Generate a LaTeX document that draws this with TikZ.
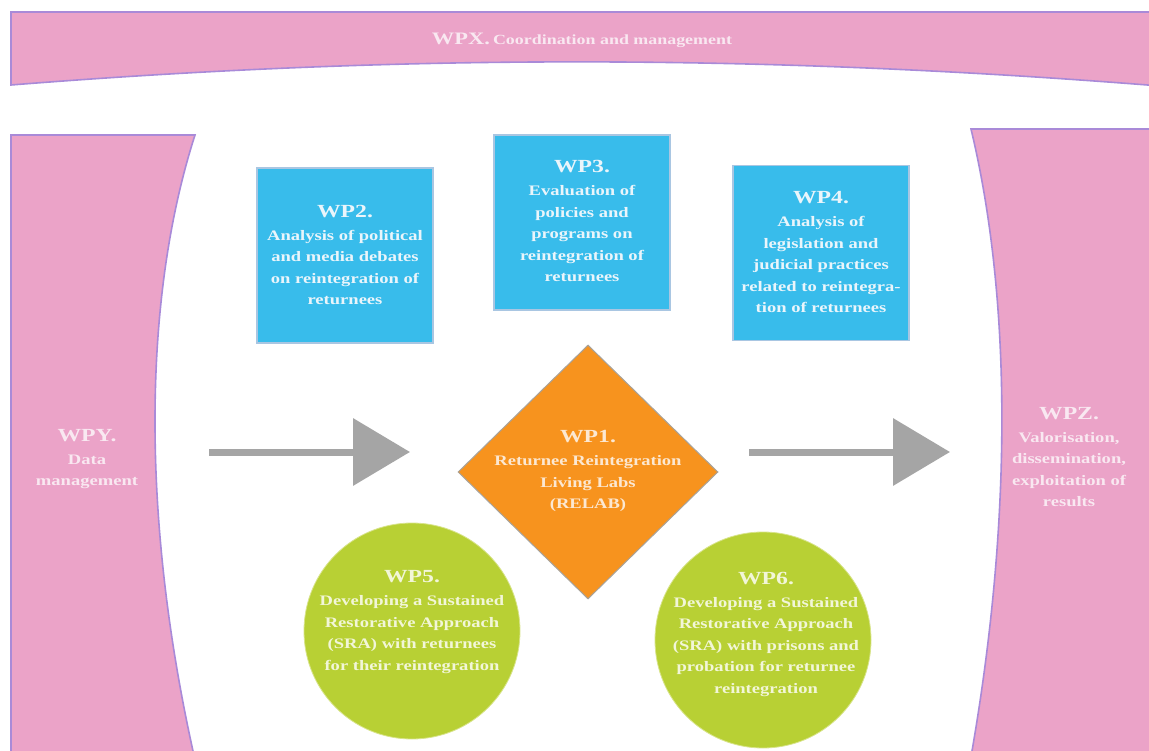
\documentclass[tikz,border=0pt]{standalone}
\usepackage{fontspec}
\setmainfont{Liberation Serif}[FakeStretch=1.28]
\usetikzlibrary{arrows.meta,shapes.geometric}
\definecolor{pinkfill}{HTML}{EBA3C8}
\definecolor{pinkline}{HTML}{A98AD8}
\definecolor{pinktext}{HTML}{F9E8F1}
\definecolor{bluefill}{HTML}{38BCEB}
\definecolor{blueline}{HTML}{A9C6E2}
\definecolor{bluetext}{HTML}{EAF5FB}
\definecolor{orangefill}{HTML}{F7931E}
\definecolor{orangeline}{HTML}{A8A29A}
\definecolor{orangetext}{HTML}{FCE8D2}
\definecolor{greenfill}{HTML}{B8D034}
\definecolor{greenline}{HTML}{D8E48A}
\definecolor{greentext}{HTML}{F2F6D8}
\definecolor{arrowgray}{HTML}{A5A5A5}
\newcommand\wptitle[1]{{\fontsize{18.5}{22}\selectfont #1}\\[1.5pt]}
\begin{document}
\begin{tikzpicture}[x=1pt,y=-1pt,
  panel/.style={fill=pinkfill,draw=pinkline,line width=1.6pt},
  bluebox/.style={rectangle,fill=bluefill,draw=blueline,line width=1.2pt,minimum width=176pt,minimum height=175pt,inner sep=0},
  orangebox/.style={diamond,fill=orangefill,draw=orangeline,line width=1pt,minimum width=260pt,minimum height=254pt,inner sep=0},
  greenbox/.style={circle,fill=greenfill,draw=greenline,line width=0.8pt,minimum size=216pt,inner sep=0},
  wptext/.style={align=center,font=\bfseries\fontsize{14.5}{21.5}\selectfont,inner sep=0},
  flow/.style={draw=arrowgray,line width=7pt,-{Triangle[length=57pt,width=66pt]},arrowgray}]
\useasboundingbox (0,0) rectangle (1149,751);
\fill[white] (0,0) rectangle (1149,751);

% banner
\draw[panel] (11,12) -- (1160,12) -- (1160,86) .. controls (760,54) and (400,54) .. (11,85) -- cycle;
\node[inner sep=0,text=pinktext] (wpxt) at (582,40) {\bfseries{\fontsize{17.5}{20}\selectfont WPX.} {\fontsize{14}{16}\selectfont Coordination and management}};

% side panels
\draw[panel] (11,135) -- (195,135) .. controls (142,300) and (142,520) .. (193,751) -- (194,765) -- (11,765) -- cycle;
\draw[panel] (1165,129) -- (971,129) .. controls (1012,300) and (1012,520) .. (972,751) -- (971,765) -- (1165,765) -- cycle;
\node[wptext,text=pinktext] (wpyt) at (87,459) {\wptitle{WPY.}Data\\management};
\node[wptext,text=pinktext] (wpzt) at (1069,457) {\wptitle{WPZ.}Valorisation,\\dissemination,\\exploitation of\\results};

% blue boxes
\node[bluebox] (wp2) at (345,255.5) {};
\node[wptext,text=bluetext] (wp2t) at (345,255) {\wptitle{WP2.}Analysis of political\\and media debates\\on reintegration of\\returnees};
\node[bluebox] (wp3) at (582,222.5) {};
\node[wptext,text=bluetext] (wp3t) at (582,221) {\wptitle{WP3.}Evaluation of\\policies and\\programs on\\reintegration of\\returnees};
\node[bluebox] (wp4) at (821,253) {};
\node[wptext,text=bluetext] (wp4t) at (821,252.5) {\wptitle{WP4.}Analysis of\\legislation and\\judicial practices\\related to reintegra-\\tion of returnees};

% green circles
\node[greenbox] (wp5) at (412,631) {};
\node[wptext,text=greentext] (wp5t) at (412,622) {\wptitle{WP5.}Developing a Sustained\\Restorative Approach\\(SRA) with returnees\\for their reintegration};
\node[greenbox] (wp6) at (763,640) {};
\node[wptext,text=greentext] (wp6t) at (766,634) {\wptitle{WP6.}Developing a Sustained\\Restorative Approach\\(SRA) with prisons and\\probation for returnee\\reintegration};

% diamond
\node[orangebox] (wp1) at (588,472) {};
\node[wptext,text=orangetext] (wp1t) at (588,471) {\wptitle{WP1.}Returnee Reintegration\\Living Labs\\(RELAB)};

% arrows
\coordinate (a1s) at (209,452);
\coordinate (a1e) at (410,452);
\coordinate (a2s) at (749,452);
\coordinate (a2e) at (950,452);
\draw[flow] (a1s) -- (a1e);
\draw[flow] (a2s) -- (a2e);
\end{tikzpicture}
\end{document}
